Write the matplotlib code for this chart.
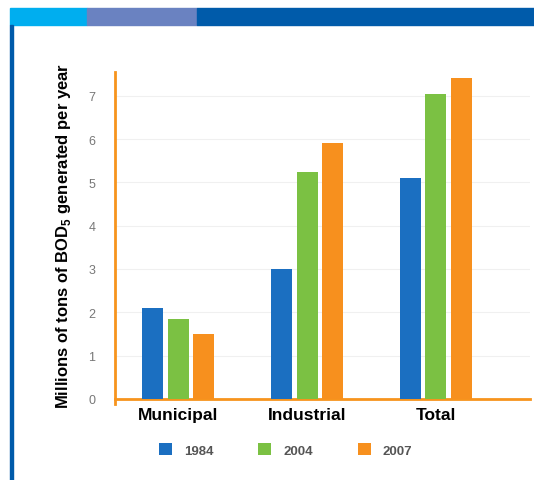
import matplotlib.pyplot as plt
from matplotlib.patches import Rectangle
import numpy as np

plt.rcParams['font.family'] = ['Liberation Sans', 'DejaVu Sans']

categories = ['Municipal', 'Industrial', 'Total']
years = ['1984', '2004', '2007']
v1984 = [2.1, 3.0, 5.1]
v2004 = [1.85, 5.25, 7.05]
v2007 = [1.5, 5.9, 7.4]
colors = ['#1b6fc1', '#7bc143', '#f7901e']
orange = '#f7941d'

fig = plt.figure(figsize=(5.34, 4.81), dpi=100)

# header bar and left rule
fig.patches.append(Rectangle((10/534, 1-26/481), 77/534, 17/481, transform=fig.transFigure, color='#00aeef'))
fig.patches.append(Rectangle((87/534, 1-26/481), 110/534, 17/481, transform=fig.transFigure, color='#6a82c1'))
fig.patches.append(Rectangle((197/534, 1-26/481), 337/534, 17/481, transform=fig.transFigure, color='#005baa'))
fig.patches.append(Rectangle((10/534, 0), 3/534, 1-26/481, transform=fig.transFigure, color='#005baa'))

ax = fig.add_axes([115/534, 1-405/481, 415/534, 332/481])
x = np.arange(len(categories))
w = 0.163
step = 0.198
for i, (vals, yr) in enumerate(zip([v1984, v2004, v2007], years)):
    ax.bar(x + (i-1)*step, vals, w, color=colors[i], label=yr, zorder=3)

ax.set_xlim(-0.49, 2.73)
ax.set_ylim(-0.12, 7.55)
ax.set_yticks(range(8))
for g in range(1, 8):
    ax.axhline(g, color='#f0f0f0', lw=0.8, zorder=0)
for s in ['top', 'right']:
    ax.spines[s].set_visible(False)
ax.spines['bottom'].set_position(('data', 0))
ax.spines['bottom'].set_color(orange)
ax.spines['left'].set_color(orange)
ax.spines['bottom'].set_linewidth(2)
ax.spines['left'].set_linewidth(2)
ax.tick_params(axis='y', length=0, pad=14, labelsize=9, labelcolor='#777777')
ax.tick_params(axis='x', length=0, pad=6)
ax.set_xticks(x)
ax.set_xticklabels(categories, fontsize=12.5, fontweight='bold')
ax.set_ylabel('Millions of tons of BOD$_\\mathregular{5}$ generated per year',
              fontsize=12, fontweight='bold', labelpad=10)
ax.yaxis.set_label_coords(-0.1, 0.51)

fig.legend(loc='center', bbox_to_anchor=(0.535, 1-451/481), ncol=3, frameon=False,
           handlelength=1.0, handleheight=1.0, columnspacing=3.4, handletextpad=0.9,
           prop={'size': 9.5, 'weight': 'bold'}, labelcolor='#555555')

fig.savefig('out.png', dpi=100)
